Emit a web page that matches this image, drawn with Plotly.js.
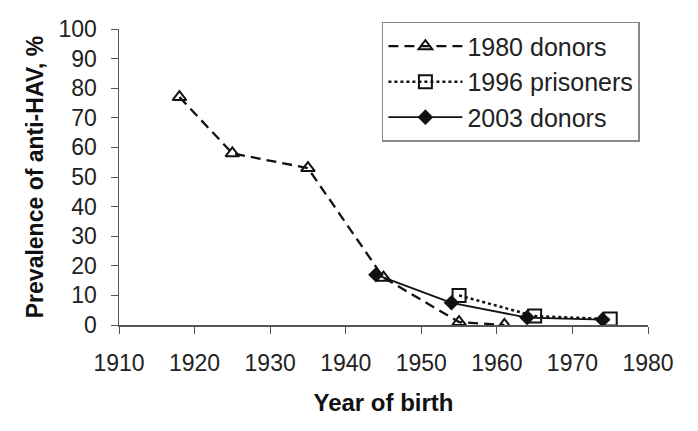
<!DOCTYPE html>
<html>
<head>
<meta charset="utf-8">
<script src="https://cdn.plot.ly/plotly-3.0.1.min.js"></script>
<style>html,body{margin:0;padding:0;background:#fff;}#chart{width:698px;height:431px;}</style>
</head>
<body>
<div id="chart"></div>
<script>
const donors1980Years = [1918, 1925, 1935, 1945, 1955, 1961];
const donors1980Values = [77, 58, 53, 16, 1, 0];
const prisoners1996Years = [1955, 1965, 1975];
const prisoners1996Values = [10, 3, 2];
const donors2003Years = [1944, 1954, 1964, 1974];
const donors2003Values = [17, 7.5, 2.5, 1.8];
const seriesNames = ["1980 donors", "1996 prisoners", "2003 donors"];

const font = "Liberation Sans, Arial, sans-serif";
const traces = [
  {x: donors1980Years, y: donors1980Values, name: seriesNames[0], mode: "lines+markers",
   line: {color: "#111", width: 2.3, dash: "10px,6px"},
   marker: {symbol: "triangle-up-open", size: 12, color: "#111", line: {width: 2}}},
  {x: prisoners1996Years, y: prisoners1996Values, name: seriesNames[1], mode: "lines+markers",
   line: {color: "#111", width: 2.5, dash: "dot"},
   marker: {symbol: "square-open", size: 13, color: "#111", line: {width: 2}}},
  {x: donors2003Years, y: donors2003Values, name: seriesNames[2], mode: "lines+markers",
   line: {color: "#111", width: 1.8},
   marker: {symbol: "diamond", size: 12, color: "#111"}}
];
const layout = {
  width: 698, height: 431,
  margin: {l: 119, r: 50, t: 29, b: 106},
  paper_bgcolor: "#fff", plot_bgcolor: "#fff",
  font: {family: font, color: "#222", size: 23},
  showlegend: true,
  legend: {x: 0.497, y: 1.024, xanchor: "left", yanchor: "top",
    bordercolor: "#888", borderwidth: 1.5, bgcolor: "#fff", itemwidth: 74,
    font: {family: font, size: 25, color: "#222"}},
  xaxis: {range: [1910, 1980], tick0: 1910, dtick: 10, showgrid: false, zeroline: false,
    showline: true, linecolor: "#555", linewidth: 1.5, ticks: "outside", ticklen: 7, tickcolor: "#555",
    tickfont: {size: 23}, ticklabelstandoff: 10,
    title: {text: "<b>Year of birth</b>", font: {size: 24, color: "#111"}, standoff: 19}},
  yaxis: {range: [0, 100], dtick: 10, showgrid: false, zeroline: false,
    showline: true, linecolor: "#555", linewidth: 1.5, ticks: "outside", ticklen: 7, tickcolor: "#555",
    tickfont: {size: 23}, ticklabelstandoff: 9,
    title: {text: "<b>Prevalence of anti-HAV, %</b>", font: {size: 23, color: "#111"}, standoff: 8}}
};
Plotly.newPlot("chart", traces, layout, {displayModeBar: false, staticPlot: true});
</script>
</body>
</html>
